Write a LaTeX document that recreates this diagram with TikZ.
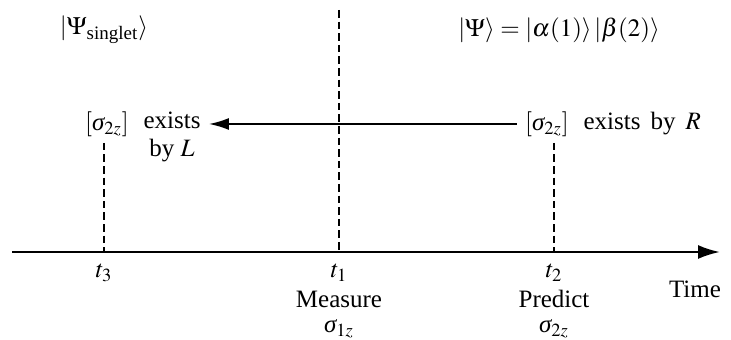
\documentclass[tikz,border=0pt]{standalone}
\usepackage{mathptmx}
\usepackage{fontspec}
\setmainfont{Liberation Serif}
\usepackage{tikz}
\usetikzlibrary{arrows.meta, positioning}
\newcommand{\sig}{\mbox{\itshape σ}}

\begin{document}
\begin{tikzpicture}[x=0.5pt, y=-0.5pt, every node/.style={font=\fontsize{12.5}{14}\selectfont, inner sep=0pt}]
    \useasboundingbox (0,0) rectangle (731,340);
    \tikzset{
        timeline/.style={line width=1.2pt, -{Latex[length=11pt, width=7pt]}},
        dashline/.style={line width=1.4pt, dash pattern=on 3.8pt off 2pt},
        pointer/.style={line width=0.9pt, -{Latex[length=10pt, width=6pt]}}
    }

    % Time axis
    \node (timelabel) at (695, 289) {Time};
    \coordinate (axisstart) at (12, 252);
    \coordinate (axisend) at (720, 252);
    \draw[timeline] (axisstart) -- (axisend);

    % Time points on the axis
    \coordinate (tthree) at (104, 252);
    \coordinate (tone) at (339, 252);
    \coordinate (ttwo) at (554, 252);
    \node (tthreelabel) at (104, 273) {$t_3$};
    \node (tonelabel) at (339, 273) {$t_1$};
    \node (ttwolabel) at (554, 273) {$t_2$};

    % Measure / Predict
    \node (measure) at (339, 299) {Measure};
    \node (measuresigma) at (339, 329) {$\sig_{1z}$};
    \node (predict) at (554, 299) {Predict};
    \node (predictsigma) at (554, 329) {$\sig_{2z}$};

    % States
    \node (singlet) at (104, 30) {$|\Psi_{\mbox{\fontsize{9.5}{10}\selectfont singlet}}\rangle$};
    \node (product) at (559, 30) {$|\Psi\rangle = |\alpha(1)\rangle\,|\beta(2)\rangle$};

    % Measurement line
    \coordinate (measuretop) at (339, 10);
    \draw[dashline] (measuretop) -- (tone);

    % Right: predicted value
    \node (rightbracket) at (547, 124) {$[\sig_{2z}]$};
    \node[right=7pt of rightbracket] (rightexists) {exists\hspace{5pt}by\hspace{5pt}$R$};
    \draw[dashline] ([yshift=-3pt]rightbracket.south -| ttwo) -- (ttwo);

    % Left: value before t1
    \node (leftbracket) at (107, 124) {$[\sig_{2z}]$};
    \node[anchor=north west, align=center] (leftexists) at ([xshift=7pt]leftbracket.north east) {exists\\by $L$};
    \draw[dashline] ([yshift=-3pt]leftbracket.south -| tthree) -- (tthree);

    % Inference backwards in time
    \coordinate (pointerstart) at ([xshift=-4pt]rightbracket.west);
    \coordinate (pointerend) at ([xshift=4pt]leftexists.east |- leftbracket.center);
    \draw[pointer] (pointerstart) -- (pointerend);
\end{tikzpicture}
\end{document}
